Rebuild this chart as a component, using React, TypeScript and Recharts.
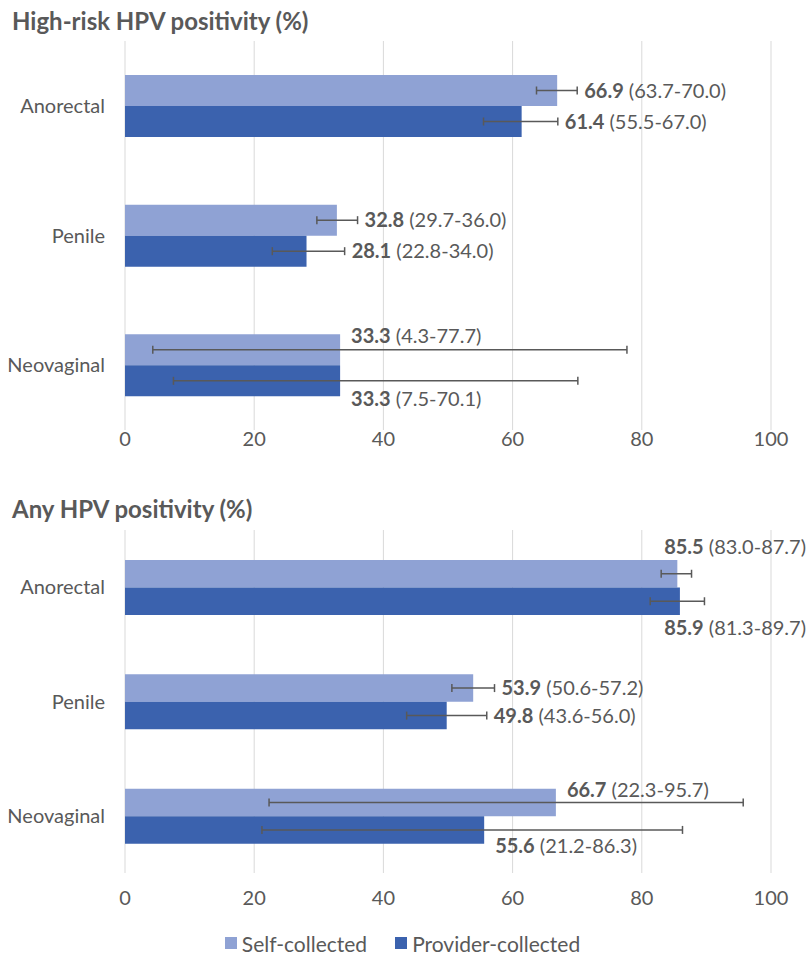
import React from 'react';
import { BarChart, Bar, XAxis, YAxis, CartesianGrid, ErrorBar, LabelList, Legend } from 'recharts';

const categories = ['Anorectal', 'Penile', 'Neovaginal'];
const xTicks = [0, 20, 40, 60, 80, 100];

const hrSelf = [66.9, 32.8, 33.3];
const hrSelfLo = [63.7, 29.7, 4.3];
const hrSelfHi = [70.0, 36.0, 77.7];
const hrProv = [61.4, 28.1, 33.3];
const hrProvLo = [55.5, 22.8, 7.5];
const hrProvHi = [67.0, 34.0, 70.1];

const anySelf = [85.5, 53.9, 66.7];
const anySelfLo = [83.0, 50.6, 22.3];
const anySelfHi = [87.7, 57.2, 95.7];
const anyProv = [85.9, 49.8, 55.6];
const anyProvLo = [81.3, 43.6, 21.2];
const anyProvHi = [89.7, 56.0, 86.3];

const SELF = '#8FA2D4';
const PROV = '#3B62AE';
const TEXT = '#595959';
const GRID = '#D9D9D9';
const ERR = '#595959';
const FONT = 'Lato, "Noto Sans", sans-serif';
const CHART_W = 811;
const FS = 20;

function buildRows(sv: number[], sl: number[], sh: number[], pv: number[], pl: number[], ph: number[]) {
  return categories.map((c, i) => ({
    cat: c,
    self: sv[i],
    selfErr: [sv[i] - sl[i], sh[i] - sv[i]],
    prov: pv[i],
    provErr: [pv[i] - pl[i], ph[i] - pv[i]],
  }));
}

const hrRows = buildRows(hrSelf, hrSelfLo, hrSelfHi, hrProv, hrProvLo, hrProvHi);
const anyRows = buildRows(anySelf, anySelfLo, anySelfHi, anyProv, anyProvLo, anyProvHi);

function makeLabel(vals: number[], los: number[], his: number[], isSelf: boolean, edgeGap: number) {
  return (props: any) => {
    const { x, y, width, height, index } = props;
    const i = index;
    const v = vals[i];
    const lo = los[i];
    const hi = his[i];
    const pxPer = width / v;
    const barEnd = x + width;
    const hiPx = x + hi * pxPer;
    const approxW = 142;
    const wide = hi - lo > 30;
    let tx = hiPx + 7;
    let ty = y + height / 2;
    let anchor: 'start' | 'end' = 'start';
    if (wide) {
      tx = barEnd + 11;
      ty = isSelf ? y + 1 : y + height + 2;
    } else if (tx + approxW > CHART_W - 4) {
      tx = CHART_W - 5;
      anchor = 'end';
      ty = isSelf ? y - edgeGap : y + height + edgeGap;
    }
    return (
      <text x={tx} y={ty} dy="0.36em" textAnchor={anchor} fill={TEXT} fontSize={FS} fontFamily={FONT}>
        <tspan fontWeight={700}>{v.toFixed(1)}</tspan>
        <tspan> ({lo.toFixed(1)}-{hi.toFixed(1)})</tspan>
      </text>
    );
  };
}

function renderLegend() {
  const items = [
    { name: 'Self-collected', color: SELF },
    { name: 'Provider-collected', color: PROV },
  ];
  return (
    <div style={{ display: 'flex', justifyContent: 'center', alignItems: 'center', height: 58, paddingTop: 22, paddingLeft: 34, boxSizing: 'border-box', fontFamily: FONT, fontSize: 21, color: TEXT }}>
      {items.map((it, k) => (
        <div key={it.name} style={{ display: 'flex', alignItems: 'center', marginLeft: k ? 28 : 0 }}>
          <span style={{ display: 'inline-block', width: 12, height: 12, background: it.color, marginRight: 5 }} />
          <span>{it.name}</span>
        </div>
      ))}
    </div>
  );
}

function Panel(props: {
  rows: any[];
  height: number;
  top: number;
  barSize: number;
  vals: number[][];
  edgeGap: number;
  tickGap: number;
  legend?: boolean;
}) {
  const { rows, height, top, barSize, vals, edgeGap, tickGap, legend } = props;
  return (
    <BarChart
      width={CHART_W}
      height={height}
      data={rows}
      layout="vertical"
      barGap={0}
      margin={{ top, right: 40, left: 0, bottom: 0 }}
      style={{ fontFamily: FONT }}
    >
      <CartesianGrid horizontal={false} vertical={true} stroke={GRID} strokeWidth={1} />
      <XAxis
        type="number"
        domain={[0, 100]}
        ticks={xTicks}
        axisLine={false}
        tickLine={false}
        height={30}
        tickMargin={tickGap}
        tick={{ fill: TEXT, fontSize: FS, fontFamily: FONT }}
      />
      <YAxis
        type="category"
        dataKey="cat"
        width={125}
        axisLine={false}
        tickLine={false}
        tickMargin={14}
        tick={{ fill: TEXT, fontSize: FS, fontFamily: FONT }}
      />
      <Bar dataKey="self" name="Self-collected" fill={SELF} barSize={barSize} isAnimationActive={false}>
        <ErrorBar dataKey="selfErr" direction="x" width={4} stroke={ERR} strokeWidth={1.5} />
        <LabelList dataKey="self" content={makeLabel(vals[0], vals[1], vals[2], true, edgeGap)} />
      </Bar>
      <Bar dataKey="prov" name="Provider-collected" fill={PROV} barSize={barSize} isAnimationActive={false}>
        <ErrorBar dataKey="provErr" direction="x" width={4} stroke={ERR} strokeWidth={1.5} />
        <LabelList dataKey="prov" content={makeLabel(vals[3], vals[4], vals[5], false, edgeGap)} />
      </Bar>
      {legend ? <Legend verticalAlign="bottom" height={58} content={renderLegend} /> : null}
    </BarChart>
  );
}

export default function App() {
  const titleStyle: React.CSSProperties = {
    position: 'absolute',
    left: 12,
    fontFamily: FONT,
    fontWeight: 700,
    fontSize: 24,
    color: TEXT,
    lineHeight: '28px',
  };
  return (
    <div style={{ position: 'absolute', left: 0, top: 0, width: 811, height: 961, background: '#fff', overflow: 'hidden' }}>
      <div style={{ ...titleStyle, top: 7 }}>High-risk HPV positivity (%)</div>
      <div style={{ position: 'absolute', left: 0, top: 0 }}>
        <Panel
          rows={hrRows}
          height={460}
          top={41}
          barSize={31}
          vals={[hrSelf, hrSelfLo, hrSelfHi, hrProv, hrProvLo, hrProvHi]}
          edgeGap={12}
          tickGap={-4}
        />
      </div>
      <div style={{ ...titleStyle, top: 495 }}>Any HPV positivity (%)</div>
      <div style={{ position: 'absolute', left: 0, top: 480 }}>
        <Panel
          rows={anyRows}
          height={481}
          top={50}
          barSize={27.5}
          vals={[anySelf, anySelfLo, anySelfHi, anyProv, anyProvLo, anyProvHi]}
          edgeGap={13}
          tickGap={12}
          legend
        />
      </div>
    </div>
  );
}
